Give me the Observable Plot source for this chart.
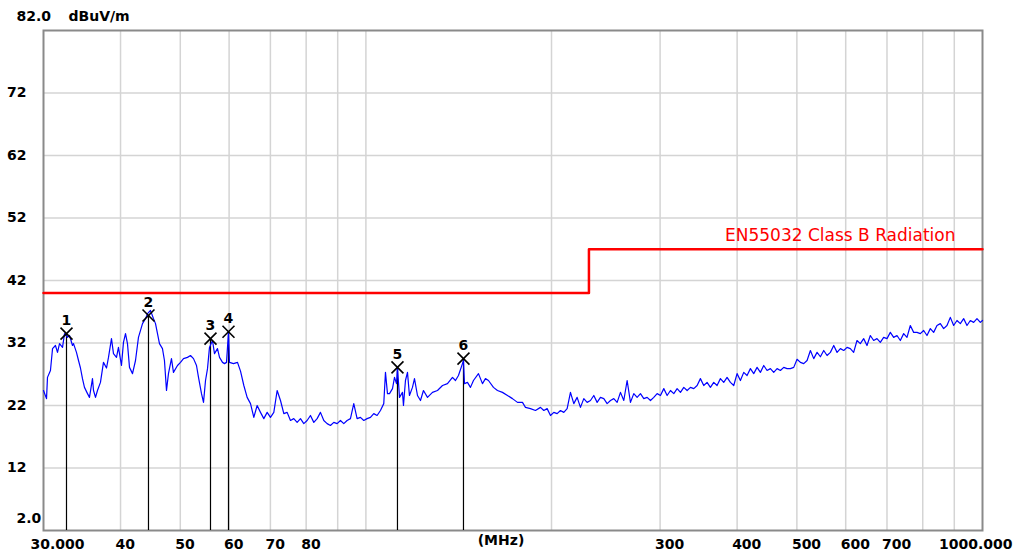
<!DOCTYPE html>
<html>
<head>
<meta charset="utf-8">
<script src="https://cdn.jsdelivr.net/npm/d3@7"></script>
<script src="https://cdn.jsdelivr.net/npm/@observablehq/plot@0.6"></script>
<style>
  html, body { margin: 0; padding: 0; background: #fff; }
  #chart svg { display: block; }
</style>
</head>
<body>
<div id="chart"></div>
<script>
const freqBand1 = [30.0,30.34,30.45,30.79,31.03,31.37,31.61,31.85,32.21,32.45,32.81,33.06,33.43,33.56,33.93,34.19,34.44,34.70,34.96,35.36,35.62,36.02,36.16,36.43,36.70,37.11,37.53,37.96,38.24,38.67,38.96,39.40,39.69,40.14,40.44,40.75,41.05,41.36,41.83,42.30,42.77,43.42,43.91,44.24,44.73,45.24,45.58,45.92,46.26,46.78,47.13,47.49,47.84,48.38,48.74,49.48,50.04,50.60,51.36,51.94,52.53,53.12,53.52,54.12,54.53,54.94,55.35,55.76,56.39,56.81,57.45,57.89,58.54,58.98,59.42,59.86,60.08,60.99,61.91];
const levelBand1 = [24.4,23.1,26.5,27.6,31.1,31.6,30.5,31.9,31.3,33.5,32.9,33.2,31.6,31.9,30.5,29.2,28.0,26.3,24.9,23.9,23.3,26.3,24.4,23.3,24.4,25.7,28.9,28.0,29.7,32.7,30.3,29.7,31.3,28.4,32.1,33.5,31.9,28.1,27.1,29.2,32.9,35.1,35.9,36.7,37.2,35.9,35.1,33.5,31.9,31.1,29.2,24.4,27.1,29.5,27.3,28.4,28.9,29.5,29.7,30.0,29.5,28.4,26.5,23.9,22.5,26.0,27.9,31.3,32.4,30.3,31.1,29.7,28.9,28.7,28.9,33.7,28.9,28.7,28.9];

const freqBand2 = [62.61,63.39,64.18,64.99,65.80,66.62,67.46,68.30,69.16,70.02,70.90,71.79,72.69,73.60,74.52,75.45,76.39,77.35,78.32,79.30,80.29,81.30,82.32,83.35,84.39,85.45,86.52,87.60,88.70,89.81,90.93,92.07,93.22,94.39,95.57,96.77,97.98,99.21,100.45,101.71,102.98,104.27,105.58,106.90];
const levelBand2 = [27.5,25.2,23.3,22.3,20.1,22.0,20.9,19.9,20.9,20.1,20.9,24.4,22.8,20.7,20.9,19.6,19.9,19.3,19.9,19.1,19.6,20.4,19.3,19.9,20.9,19.6,19.1,18.8,19.3,19.1,19.6,19.1,19.6,19.9,22.3,19.9,20.1,19.6,19.9,20.1,20.7,20.4,21.2,22.3];

const freqBand3 = [107.58,108.39,109.21,110.44,111.27,112.10,112.51,113.36,114.63,115.06,115.92,116.80,117.66,118.99,119.89,121.24,122.60,123.98,125.86,128.22,130.64,133.11,135.61,138.17,139.72,141.29,143.42,143.96,144.50,146.12,147.77,149.43,152.25,154.54,156.28,158.04,161.02,163.44,166.52,169.67,172.85,176.12,179.44,181.46,184.89,188.36];
const levelBand3 = [27.3,23.9,23.9,24.7,26.5,25.5,28.1,23.3,24.1,22.0,26.0,27.3,23.6,24.9,26.3,23.6,22.8,24.4,23.3,24.1,24.4,25.2,25.5,26.5,26.0,26.8,28.7,29.2,25.5,25.7,24.9,26.0,27.1,25.5,26.3,26.0,24.9,24.4,24.1,23.6,23.1,22.5,22.5,21.7,21.5,21.2];

const freqBand4 = [191.92,194.32,196.76,199.22,201.72,204.24,206.80,209.39,212.01,214.66,217.35,220.07,222.83,225.62,228.45,231.31,234.21,237.14,240.11,243.12,246.17,249.25,252.37,255.53,258.73,261.97,265.25,268.57,271.93,275.34,278.79,282.28,285.82,289.40,293.02,296.69,300.41,304.17,307.98,311.84,315.75,319.70,323.70,327.75,331.86,336.02,340.23,344.49];
const levelBand4 = [21.7,21.2,21.5,20.4,20.9,20.7,21.2,20.9,21.5,24.1,22.3,23.3,21.7,23.1,22.5,22.8,23.6,22.5,23.3,23.1,22.3,22.8,23.1,22.5,24.1,22.8,26.0,22.5,23.9,23.3,23.9,23.1,23.3,22.8,23.3,23.9,23.6,24.7,23.6,24.4,23.9,24.7,24.1,24.9,24.4,24.9,24.7,25.2];

const freqBand5 = [348.74,353.11,357.53,362.01,366.54,371.13,375.78,380.49,385.25,390.08,394.96,399.91,404.92,409.99,415.12,420.32,425.59,430.92,436.32,441.78,447.32,452.92,458.59,464.33,470.15,476.04,482.00,488.04,494.15,500.34,506.61,512.95,519.38,525.88,532.47,539.14,545.89,552.73,559.65,566.66,573.76,580.95,588.22,595.59,603.05];
const levelBand5 = [26.3,25.2,25.7,24.9,25.7,25.2,26.3,25.7,26.5,25.7,25.2,27.1,26.0,27.3,26.8,27.9,27.1,28.1,27.3,28.4,27.6,27.9,27.3,27.9,27.6,28.1,27.9,27.9,28.1,29.4,28.9,28.7,29.2,30.8,29.5,30.5,29.8,30.8,30.0,30.5,31.6,30.5,31.1,30.8,31.3];

const freqBand6 = [610.43,618.08,625.82,633.66,641.60,649.64,657.77,666.01,674.35,682.80,691.35,700.01,708.78,717.66,726.65,735.75,744.96,754.29,763.74,773.31,782.99,792.80,802.73,812.78,822.96,833.27,843.71,854.27,864.97,875.81,886.78,897.88,909.13,920.52,932.05,943.72,955.54,967.51,979.63,991.90,1000];
const levelBand6 = [31.1,30.5,32.4,31.9,32.7,31.6,33.2,32.4,32.7,32.1,32.9,32.7,33.7,32.9,33.2,32.4,33.5,32.9,34.8,33.7,33.7,33.5,34.0,33.2,34.3,33.7,34.8,35.1,34.3,34.8,36.1,34.8,35.6,35.1,35.9,34.8,35.6,35.3,35.9,35.3,35.6];

// Limit line (EN55032 Class B radiated)
const limitFreq = [30, 230, 1000];
const limitDb = [40, 47, 47];
const limitName = "EN55032 Class B Radiation";

// Markers
const markerNo = ["1","2","3","4","5","6"];
const markerFreq = [32.69, 44.40, 55.97, 59.86, 112.51, 143.96];
const markerDb = [33.5, 36.4, 32.7, 33.8, 28.1, 29.5];

// Axis / grid
const xGrid = [40,50,60,70,80,90,100,200,300,400,500,600,700,800,900];
const xLabels = [40,50,60,70,80,300,400,500,600,700];
const yGrid = [12,22,32,42,52,62,72];

const freqMHz = [].concat(freqBand1, freqBand2, freqBand3, freqBand4, freqBand5, freqBand6);
const levelDb = [].concat(levelBand1, levelBand2, levelBand3, levelBand4, levelBand5, levelBand6);
const trace = freqMHz.map((f, i) => ({f, v: levelDb[i]}));
const limit = limitFreq.map((f, i) => ({f, v: limitDb[i]}));
const markers = markerNo.map((n, i) => ({n, f: markerFreq[i], v: markerDb[i]}));

const FONT = "'DejaVu Sans', Verdana, sans-serif";
const lab = {fontSize: 14, fontWeight: "bold", fill: "#000", fontFamily: FONT};

const chart = Plot.plot({
  width: 1020,
  height: 558,
  marginLeft: 43,
  marginRight: 38,
  marginTop: 30,
  marginBottom: 28,
  style: {fontFamily: FONT, background: "#fff", overflow: "visible"},
  x: {type: "log", domain: [30, 1000], axis: null},
  y: {domain: [2, 82], axis: null},
  marks: [
    Plot.ruleX(xGrid, {stroke: "#d4d4d4", strokeWidth: 1.5}),
    Plot.ruleY(yGrid, {stroke: "#d4d4d4", strokeWidth: 1.5}),
    Plot.frame({stroke: "#8a8a8a", strokeWidth: 2}),
    // limit line
    Plot.line(limit, {x: "f", y: "v", curve: "step-after", stroke: "#ff0000", strokeWidth: 2.5}),
    Plot.text([limitName], {x: 1000, y: 47, text: d => d, textAnchor: "end", dx: -27, dy: -14,
      fill: "#ff0000", fontSize: 17, fontFamily: FONT}),
    // marker stems
    Plot.ruleX(markers, {x: "f", y1: 2, y2: "v", stroke: "#000", strokeWidth: 1.2}),
    // trace
    Plot.line(trace, {x: "f", y: "v", stroke: "#0000ff", strokeWidth: 1.2}),
    // markers
    Plot.dot(markers, {x: "f", y: "v", symbol: "times", r: 5.5, stroke: "#000", strokeWidth: 1.6}),
    Plot.text(markers, {x: "f", y: "v", text: "n", dy: -13, ...lab}),
    // x tick labels
    Plot.text(xLabels, {x: d => d, y: 2, text: d => String(d), textAnchor: "start", dx: -5, dy: 14, ...lab}),
    Plot.text(["30.000"], {x: 30, y: 2, text: d => d, textAnchor: "start", dx: -13, dy: 14, ...lab}),
    Plot.text(["1000.000"], {x: 1000, y: 2, text: d => d, textAnchor: "end", dx: 30, dy: 14, ...lab}),
    Plot.text(["(MHz)"], {frameAnchor: "bottom", text: d => d, dx: -12, dy: 14, ...lab}),
    // y tick labels
    Plot.text(yGrid, {x: 30, y: d => d, text: d => String(d), textAnchor: "end", dx: -17, ...lab}),
    Plot.text(["82.0"], {x: 30, y: 82, text: d => d, textAnchor: "start", dx: -27, dy: -14, ...lab}),
    Plot.text(["dBuV/m"], {x: 30, y: 82, text: d => d, textAnchor: "start", dx: 25, dy: -14, ...lab}),
    Plot.text(["2.0"], {x: 30, y: 2, text: d => d, textAnchor: "start", dx: -27, dy: -12, ...lab})
  ]
});
document.getElementById("chart").appendChild(chart);
</script>
</body>
</html>
